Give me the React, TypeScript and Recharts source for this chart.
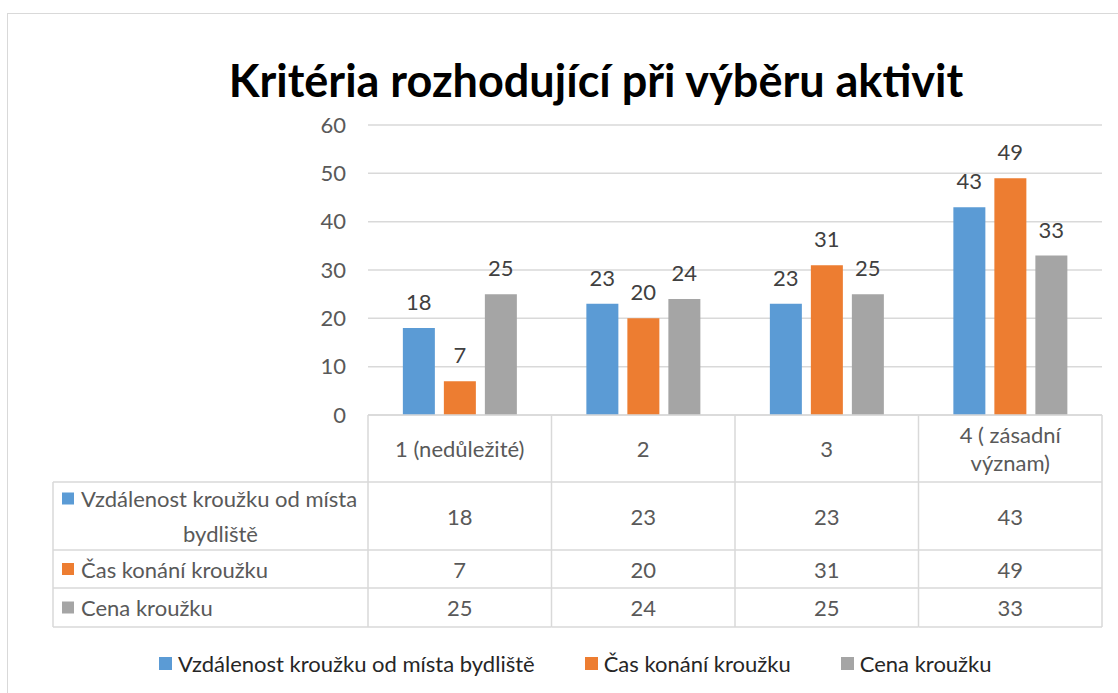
import React from 'react';
import { BarChart, Bar, XAxis, YAxis, CartesianGrid, LabelList, Legend } from 'recharts';

// ---------- data ----------
const categories = ['1 (nedůležité)', '2', '3', '4 ( zásadní význam)'];
const categoryLines = [['1 (nedůležité)'], ['2'], ['3'], ['4 ( zásadní', 'význam)']];
const distanceValues = [18, 23, 23, 43];
const timeValues = [7, 20, 31, 49];
const priceValues = [25, 24, 25, 33];
const seriesNames = ['Vzdálenost kroužku od místa bydliště', 'Čas konání kroužku', 'Cena kroužku'];
const seriesLabelLines = [['Vzdálenost kroužku od místa', 'bydliště'], ['Čas konání kroužku'], ['Cena kroužku']];
const seriesColors = ['#5B9BD5', '#ED7D31', '#A5A5A5'];
const yTicks = [0, 10, 20, 30, 40, 50, 60];
const titleText = 'Kritéria rozhodující při výběru aktivit';

const seriesValues = [distanceValues, timeValues, priceValues];
const data = categories.map((c, i) => ({
  name: c,
  s0: distanceValues[i],
  s1: timeValues[i],
  s2: priceValues[i],
}));

// ---------- layout ----------
const W = 1118;
const H = 693;
const PLOT_TOP = 125;
const PLOT_BOTTOM = 415;
const PLOT_LEFT = 368;
const PLOT_RIGHT = 1102;
const Y_AXIS_W = 60;
const TABLE_LEFT = 53;
const ROW_H = [67, 68, 38, 39];
const TABLE_H = ROW_H.reduce((a, b) => a + b, 0);
const FONT = 'Lato, "Open Sans", sans-serif';
const FS = 22;
const GRID = '#D9D9D9';
const TXT = '#595959';

const margin = {
  top: PLOT_TOP,
  right: W - PLOT_RIGHT,
  left: PLOT_LEFT - Y_AXIS_W,
  bottom: H - PLOT_BOTTOM - TABLE_H,
};

const TableTick = (props: any) => {
  const { x, y, index, payload } = props;
  const fallbackBand = (PLOT_RIGHT - PLOT_LEFT) / categories.length;
  const band = payload && typeof payload.offset === 'number' && payload.offset > 0 ? payload.offset * 2 : fallbackBand;
  const x0 = x - band / 2;
  const x1 = x + band / 2;
  const rowTops: number[] = [];
  let acc = y;
  ROW_H.forEach((h) => {
    rowTops.push(acc);
    acc += h;
  });
  const bottom = acc;
  const lineProps = { stroke: GRID, strokeWidth: 1.5 };
  const textProps = { fontFamily: FONT, fontSize: FS, fill: TXT };
  const headerLines = categoryLines[index] || [String(payload.value)];
  const headerMid = y + ROW_H[0] / 2;
  const lh = 28;

  const els: React.ReactNode[] = [];
  els.push(<line key="vr" x1={x1} x2={x1} y1={y} y2={bottom} {...lineProps} />);
  if (index === 0) {
    els.push(<line key="vl" x1={x0} x2={x0} y1={y} y2={bottom} {...lineProps} />);
  }
  for (let r = 1; r <= ROW_H.length; r++) {
    const yy = r < ROW_H.length ? rowTops[r] : bottom;
    els.push(<line key={'h' + r} x1={x0} x2={x1} y1={yy} y2={yy} {...lineProps} />);
  }
  headerLines.forEach((t, li) => {
    const ty = headerMid + (li - (headerLines.length - 1) / 2) * lh;
    els.push(
      <text key={'ht' + li} x={x} y={ty} textAnchor="middle" dominantBaseline="central" {...textProps}>
        {t}
      </text>
    );
  });
  seriesValues.forEach((vals, r) => {
    const cy = rowTops[r + 1] + ROW_H[r + 1] / 2;
    els.push(
      <text key={'v' + r} x={x} y={cy} textAnchor="middle" dominantBaseline="central" {...textProps}>
        {vals[index]}
      </text>
    );
  });

  if (index === 0) {
    for (let r = 1; r <= ROW_H.length; r++) {
      const yy = r < ROW_H.length ? rowTops[r] : bottom;
      els.push(<line key={'lh' + r} x1={TABLE_LEFT} x2={x0} y1={yy} y2={yy} {...lineProps} />);
    }
    els.push(<line key="lv" x1={TABLE_LEFT} x2={TABLE_LEFT} y1={rowTops[1]} y2={bottom} {...lineProps} />);
    const sqX = TABLE_LEFT + 9;
    const sq = 12;
    const txtX = sqX + sq + 7;
    const txtCenter = (txtX + x0 - 8) / 2;
    seriesLabelLines.forEach((lines, r) => {
      const cellMid = rowTops[r + 1] + ROW_H[r + 1] / 2;
      const firstY = cellMid - ((lines.length - 1) / 2) * 35;
      els.push(<rect key={'sq' + r} x={sqX} y={firstY - sq / 2} width={sq} height={sq} fill={seriesColors[r]} />);
      lines.forEach((t, li) => {
        els.push(
          <text
            key={'lt' + r + '-' + li}
            x={li === 0 ? txtX : txtCenter}
            y={firstY + li * 35}
            textAnchor={li === 0 ? 'start' : 'middle'}
            dominantBaseline="central"
            {...textProps}
          >
            {t}
          </text>
        );
      });
    });
  }
  return <g>{els}</g>;
};

const LegendContent = (props: any) => {
  const payload = [...(props.payload || [])].sort(
    (a: any, b: any) => seriesNames.indexOf(a.value) - seriesNames.indexOf(b.value)
  );
  return (
    <div style={{ display: 'flex', alignItems: 'center', height: 26, gap: 50, fontFamily: FONT, fontSize: FS, color: '#262626', whiteSpace: 'nowrap' }}>
      {payload.map((p: any, i: number) => (
        <div key={i} style={{ display: 'flex', alignItems: 'center' }}>
          <span style={{ display: 'inline-block', width: 13, height: 13, background: p.color, marginRight: 6 }} />
          <span>{p.value}</span>
        </div>
      ))}
    </div>
  );
};

export default function App() {
  return (
    <div style={{ position: 'absolute', left: 0, top: 0, width: W, height: H, overflow: 'hidden', background: '#fff' }}>
      <div style={{ position: 'absolute', left: 7, top: 13, width: 1300, height: 900, border: `1px solid ${GRID}` }} />
      <div
        style={{
          position: 'absolute',
          left: 596,
          top: 58,
          transform: 'translateX(-50%)',
          whiteSpace: 'nowrap',
          fontFamily: FONT,
          fontWeight: 700,
          fontSize: 45,
          lineHeight: '45px',
          color: '#000',
        }}
      >
        {titleText}
      </div>
      <div style={{ position: 'absolute', left: 0, top: 0 }}>
        <BarChart width={W} height={H} data={data} margin={margin} barCategoryGap="19%" barGap={9}>
          <CartesianGrid horizontal vertical={false} stroke={GRID} strokeWidth={1.5} />
          <YAxis
            domain={[0, 60]}
            ticks={yTicks}
            interval={0}
            width={Y_AXIS_W}
            axisLine={false}
            tickLine={false}
            tickSize={0}
            tickMargin={22}
            tick={{ fill: TXT, fontSize: FS, fontFamily: FONT }}
          />
          <XAxis
            dataKey="name"
            height={TABLE_H}
            interval={0}
            axisLine={{ stroke: GRID, strokeWidth: 1.5 }}
            tickLine={false}
            tickSize={0}
            tickMargin={0}
            tick={(p: any) => <TableTick {...p} />}
          />
          {seriesNames.map((n, i) => (
            <Bar key={n} dataKey={'s' + i} name={n} fill={seriesColors[i]} isAnimationActive={false}>
              <LabelList dataKey={'s' + i} position="top" offset={18} fill="#404040" fontSize={FS} fontFamily={FONT} />
            </Bar>
          ))}
          <Legend
            verticalAlign="middle"
            align="center"
            layout="horizontal"
            content={(p: any) => <LegendContent {...p} />}
            wrapperStyle={{ position: 'absolute', left: 159, top: 650, width: 900, height: 26 }}
          />
        </BarChart>
      </div>
    </div>
  );
}
